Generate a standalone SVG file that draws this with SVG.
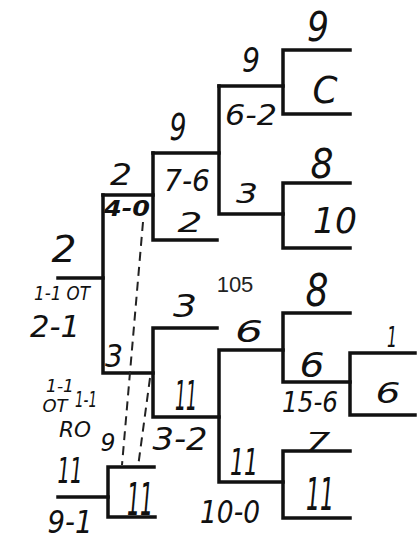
<svg xmlns="http://www.w3.org/2000/svg" width="417" height="556" viewBox="0 0 417 556">
<style>
.ln{fill:none;stroke:#111;stroke-width:3.5;stroke-linecap:square;stroke-linejoin:miter}
.dash{fill:none;stroke:#222;stroke-width:2;stroke-dasharray:9 6}
text{font-family:"DejaVu Sans","Liberation Sans",sans-serif;fill:#111;text-anchor:middle;font-style:italic}
.pr{font-family:"Liberation Sans",Arial,sans-serif;font-style:normal;fill:#222}
</style>
<rect width="417" height="556" fill="#fff"/>
<g id="connectors">
<path class="ln" d="M350,50 H283 V114 H350"/>
<path class="ln" d="M219,86 H283"/>
<path class="ln" d="M219,86 V214 H283"/>
<path class="ln" d="M350,183 H283 V248 H350"/>
<path class="ln" d="M153,153 H219"/>
<path class="ln" d="M153,153 V240 H217"/>
<path class="ln" d="M103,195 H153"/>
<path class="ln" d="M103,195 V373 H153"/>
<path class="ln" d="M58,278 H103"/>
<path class="ln" d="M217,328 H153 V417 H219"/>
<path class="ln" d="M283,350 H219 V482 H283"/>
<path class="ln" d="M350,313 H283 V382 H350"/>
<path class="ln" d="M415,353 H350 V415 H415"/>
<path class="ln" d="M350,451 H283 V518 H350"/>
<path class="ln" d="M154,467 H108 V517 H155"/>
<path class="ln" d="M58,497 H108"/>
<path class="dash" d="M143,222 L122,465"/>
<path class="dash" d="M150,378 L138,467"/>
</g>
<g id="n-top9"><text x="318" y="41" font-size="40" textLength="22" lengthAdjust="spacingAndGlyphs">9</text></g>
<g id="n-c"><text x="325" y="103" font-size="38" textLength="25" lengthAdjust="spacingAndGlyphs">C</text></g>
<g id="n-9-62"><text x="251" y="72" font-size="34" textLength="18" lengthAdjust="spacingAndGlyphs">9</text><text x="251" y="125" font-size="28" textLength="52" lengthAdjust="spacingAndGlyphs">6-2</text></g>
<g id="n-3top"><text x="247" y="203" font-size="27" textLength="22" lengthAdjust="spacingAndGlyphs">3</text></g>
<g id="n-8"><text x="322" y="178" font-size="40" textLength="23" lengthAdjust="spacingAndGlyphs">8</text></g>
<g id="n-10"><text x="335" y="233" font-size="36" textLength="44" lengthAdjust="spacingAndGlyphs">10</text></g>
<g id="n-9-76"><text x="178" y="140" font-size="38" textLength="17" lengthAdjust="spacingAndGlyphs">9</text><text x="187" y="191" font-size="30" textLength="46" lengthAdjust="spacingAndGlyphs">7-6</text><text x="190" y="232" font-size="27" textLength="25" lengthAdjust="spacingAndGlyphs">2</text></g>
<g id="n-2-40"><text x="121" y="185" font-size="30" textLength="22" lengthAdjust="spacingAndGlyphs">2</text><text x="127" y="216" font-size="21" font-weight="bold" textLength="46" lengthAdjust="spacingAndGlyphs">4-0</text></g>
<g id="n-2left"><text x="64" y="262" font-size="38" textLength="25" lengthAdjust="spacingAndGlyphs">2</text><text x="62" y="300" font-size="20" textLength="56" lengthAdjust="spacingAndGlyphs">1-1 OT</text><text x="55" y="337" font-size="30" textLength="50" lengthAdjust="spacingAndGlyphs">2-1</text></g>
<g id="n-3mid"><text x="114" y="367" font-size="32" textLength="18" lengthAdjust="spacingAndGlyphs">3</text></g>
<g id="n-ot"><text x="60" y="392" font-size="18" textLength="28" lengthAdjust="spacingAndGlyphs">1-1</text><text x="55" y="412" font-size="17" textLength="25" lengthAdjust="spacingAndGlyphs">OT</text><text x="86" y="407" font-size="22" textLength="22" lengthAdjust="spacingAndGlyphs">1-1</text><text x="75" y="437" font-size="22" textLength="32" lengthAdjust="spacingAndGlyphs">RO</text></g>
<g id="n-3-11"><text x="185" y="317" font-size="32" textLength="24" lengthAdjust="spacingAndGlyphs">3</text><text x="186" y="410" font-size="40" textLength="22" lengthAdjust="spacingAndGlyphs">11</text><text x="180" y="450" font-size="32" textLength="55" lengthAdjust="spacingAndGlyphs">3-2</text></g>
<g id="n-105"><text class="pr" x="235" y="292" font-size="22">105</text></g>
<g id="n-6-11"><text x="249" y="342" font-size="30" textLength="28" lengthAdjust="spacingAndGlyphs">6</text><text x="244" y="475" font-size="38" textLength="28" lengthAdjust="spacingAndGlyphs">11</text><text x="230" y="523" font-size="32" textLength="60" lengthAdjust="spacingAndGlyphs">10-0</text></g>
<g id="n-8-6"><text x="317" y="306" font-size="44" textLength="23" lengthAdjust="spacingAndGlyphs">8</text><text x="312" y="377" font-size="33" textLength="25" lengthAdjust="spacingAndGlyphs">6</text><text x="310" y="412" font-size="28" textLength="56" lengthAdjust="spacingAndGlyphs">15-6</text></g>
<g id="n-1-6"><text x="392" y="347" font-size="28" textLength="10" lengthAdjust="spacingAndGlyphs">1</text><text x="388" y="403" font-size="28" textLength="25" lengthAdjust="spacingAndGlyphs">6</text></g>
<g id="n-7-11"><text x="318" y="450" font-size="24" textLength="25" lengthAdjust="spacingAndGlyphs">7</text><text x="320" y="510" font-size="44" textLength="28" lengthAdjust="spacingAndGlyphs">11</text></g>
<g id="n-box"><text x="108" y="451" font-size="24" textLength="15" lengthAdjust="spacingAndGlyphs">9</text><text x="140" y="515" font-size="44" textLength="26" lengthAdjust="spacingAndGlyphs">11</text></g>
<g id="n-11-91"><text x="70" y="483" font-size="36" textLength="25" lengthAdjust="spacingAndGlyphs">11</text><text x="70" y="533" font-size="32" textLength="45" lengthAdjust="spacingAndGlyphs">9-1</text></g>
</svg>
